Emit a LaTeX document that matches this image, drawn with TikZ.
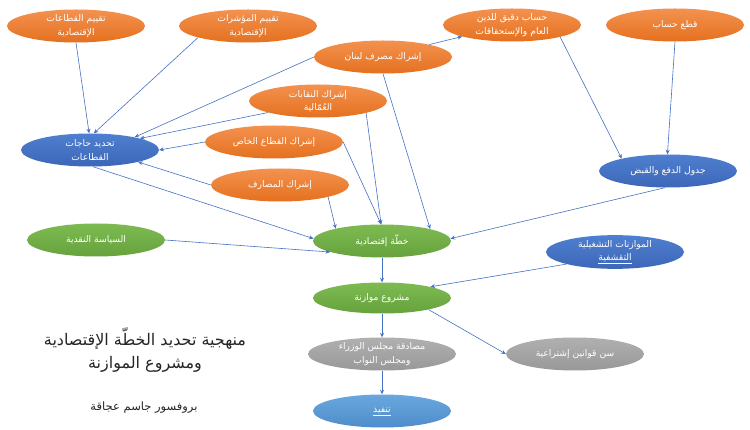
\documentclass[tikz,border=0pt]{standalone}
\usepackage{fontspec}
\usetikzlibrary{shapes.geometric,arrows.meta}
\newfontfamily\arabicfont[Script=Arabic]{DejaVu Sans}
\TeXXeTstate=1
\definecolor{orA}{HTML}{F3914F}
\definecolor{orB}{HTML}{E5711F}
\definecolor{blA}{HTML}{4F7FD0}
\definecolor{blB}{HTML}{3D67B8}
\definecolor{grA}{HTML}{7DBB52}
\definecolor{grB}{HTML}{67A23D}
\definecolor{gyA}{HTML}{B0B0B0}
\definecolor{gyB}{HTML}{989898}
\definecolor{lbA}{HTML}{6AA7DE}
\definecolor{lbB}{HTML}{4E8DCB}
\definecolor{arrowc}{HTML}{4472C4}
\newcommand{\ar}[1]{\beginR #1\endR}
\tikzset{
  elli/.style={ellipse, minimum width=138pt, minimum height=33pt, inner sep=0pt,
    text=white, align=center, font=\arabicfont\fontsize{9.2}{13.5}\selectfont},
  orangeE/.style={elli, top color=orA, bottom color=orB},
  blueE/.style={elli, top color=blA, bottom color=blB},
  greenE/.style={elli, top color=grA, bottom color=grB},
  grayE/.style={elli, top color=gyA, bottom color=gyB},
  lblueE/.style={elli, top color=lbA, bottom color=lbB},
  conn/.style={draw=arrowc, line width=0.6pt, -{Stealth[length=4.5pt,width=4pt]}},
}
\begin{document}
\begin{tikzpicture}[x=1pt,y=-1pt]
\useasboundingbox (0,0) rectangle (750,430);
\fill[white] (0,0) rectangle (750,430);
% nodes
\node[orangeE] (n1) at (76,26) {\ar{تقييم القطاعات}\\\ar{الإقتصادية}};
\node[orangeE] (n2) at (248,26) {\ar{تقييم المؤشرات}\\\ar{الإقتصادية}};
\node[orangeE] (n3) at (512,25) {\ar{حساب دقيق للدين}\\\ar{العام والإستحقاقات}};
\node[orangeE] (n4) at (675,25) {\ar{قطع حساب}};
\node[orangeE] (n5) at (383,57) {\ar{إشراك مصرف لبنان}};
\node[orangeE] (n6) at (318,101) {\ar{إشراك النقابات}\\\ar{العُمّالية}};
\node[orangeE] (n7) at (274,142) {\ar{إشراك القطاع الخاص}};
\node[orangeE] (n8) at (280,185) {\ar{إشراك المصارف}};
\node[blueE] (n9) at (90,150) {\ar{تحديد حاجات}\\\ar{القطاعات}};
\node[blueE] (n10) at (668,171) {\ar{جدول الدفع والقبض}};
\node[greenE] (n11) at (96,240) {\ar{السياسة النقدية}};
\node[greenE] (n12) at (382,241) {\ar{خطّة إقتصادية}};
\node[blueE, minimum height=31pt] (n13) at (615,252) {\ar{الموازنات التشغيلية}\\\underline{\ar{التقشفية}}};
\node[greenE, minimum height=31pt] (n14) at (382,298) {\ar{مشروع موازنة}};
\node[grayE, minimum width=148pt] (n15) at (382,354) {\ar{مصادقة مجلس الوزراء}\\\ar{ومجلس النواب}};
\node[grayE] (n16) at (575,354) {\ar{سن قوانين إشتراعية}};
\node[lblueE] (n17) at (382,411) {\underline{\ar{تنفيذ}}};
% title
\node[align=center, text=black!85, font=\arabicfont\fontsize{16}{23}\selectfont] (title) at (145,350)
  {\ar{منهجية تحديد الخطّة الإقتصادية}\\\ar{ومشروع الموازنة}};
\node[text=black!85, font=\arabicfont\fontsize{11.5}{13}\selectfont] (author) at (144,408) {\ar{بروفسور جاسم عجاقة}};
% connectors
\draw[conn] (n1.south) -- (n9.93);
\draw[conn] (n2.193) -- (n9.77);
\draw[conn] (n5.west) -- (n9.16);
\draw[conn] (n6.193) -- (n9.13);
\draw[conn] (n7.west) -- (n9.east);
\draw[conn] (n8.west) -- (n9.346);
\draw[conn] (n9.280) -- (n12.178);
\draw[conn] (n11.east) -- (n12.192);
\draw[conn] (n8.346) -- (n12.165);
\draw[conn] (n7.east) -- (n12.93);
\draw[conn] (n6.346) -- (n12.93);
\draw[conn] (n5.south) -- (n12.14);
\draw[conn] (n5.15) -- (n3.193);
\draw[conn] (n3.346) -- (n10.165);
\draw[conn] (n4.south) -- (n10.92);
\draw[conn] (n10.260) -- (n12.2);
\draw[conn] (n12.south) -- (n14.north);
\draw[conn] (n13.194) -- (n14.13);
\draw[conn] (n14.south) -- (n15.north);
\draw[conn] (n14.346) -- (n16.west);
\draw[conn] (n15.south) -- (n17.north);
\end{tikzpicture}
\end{document}
